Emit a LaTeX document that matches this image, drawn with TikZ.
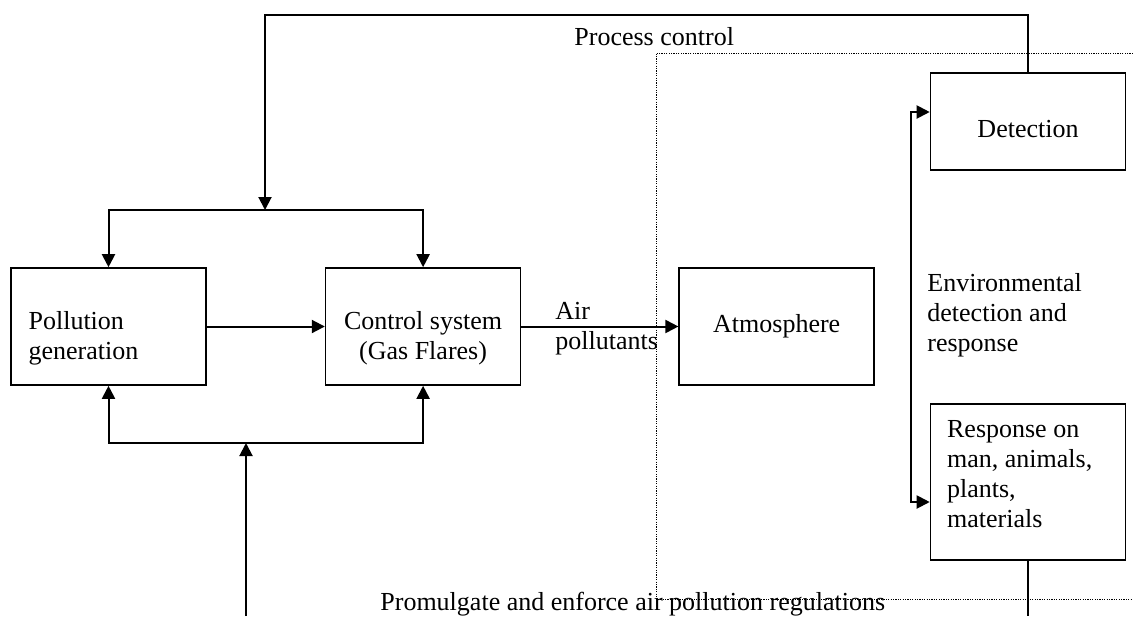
\documentclass[tikz,border=0pt]{standalone}
\usepackage{fontspec}
\setmainfont{Liberation Serif}
\usetikzlibrary{arrows.meta,positioning}

\begin{document}
\begin{tikzpicture}[
  x=0.5pt,y=-0.5pt,
  font=\fontsize{13}{15}\selectfont,
  >={Triangle[length=6.5pt,width=6.5pt]},
  block/.style={draw,line width=0.8pt,minimum width=97.5pt,minimum height=58.5pt,inner sep=0pt,align=center},
  conn/.style={line width=1pt},
  txt/.style={inner sep=0pt,align=left},
  frame/.style={line width=0.5pt,dash pattern=on 0.6pt off 0.6pt}
]
  \useasboundingbox (0,0) rectangle (1133,616);

  % dotted region
  \draw[frame] (1133,53) -- (656,53) -- (656,599) -- (1133,599);

  \node[block] (pollution) at (108.5,326.5) {};
  \node[block,right=59pt of pollution] (control) {};
  \node[block,right=78.5pt of control] (atmos) {Atmosphere};
  \node[block,minimum height=48.5pt] (detect) at (1028,121.5) {};
  \node[block,minimum height=78pt] (response) at (1028,482) {};

  % box texts
  \node[txt,anchor=west] (polltxt) at ([xshift=9pt,yshift=-6pt]pollution.west) {Pollution\\generation};
  \node[txt,align=center] (ctrltxt) at ([yshift=-6pt]control.center) {Control system\\(Gas Flares)};
  \node[txt] (dettxt) at ([yshift=-4pt]detect.center) {Detection};
  \node[txt,anchor=north west] (resptxt) at ([xshift=8.5pt,yshift=-8.5pt]response.north west) {Response on\\man, animals,\\plants,\\materials};

  % free labels
  \node[txt,anchor=base west] (pctxt) at (574,45) {Process control};
  \node[txt,anchor=north west] (envtxt) at (927,273) {Environmental\\detection and\\response};
  \node[txt,anchor=north west] (airtxt) at (555,302) {Air\\pollutants};
  \node[txt,anchor=base west] (regtxt) at (380,610) {Promulgate and enforce air pollution regulations};

  \coordinate (pctop) at (265,15);
  \coordinate (pcfork) at (265,210);
  \coordinate (regin) at (246,616);
  \coordinate (regfork) at (246,443);
  \coordinate (regout) at (response.south |- regin);

  \draw[conn,->] (detect.north) |- (pctop) -- (pcfork);
  \draw[conn,->] (pcfork) -| (pollution.north);
  \draw[conn,->] (pcfork) -| (control.north);
  \draw[conn,->] (pollution) -- (control);
  \draw[conn,->] (control) -- (atmos);
  \draw[conn,->] (regin) -- (regfork);
  \draw[conn,->] (regfork) -| (pollution.south);
  \draw[conn,->] (regfork) -| (control.south);
  \draw[conn,<->] ([yshift=4.75pt]detect.west) -- ++(-9.5pt,0) |- ([yshift=-10pt]response.west);
  \draw[conn] (response) -- (regout);
\end{tikzpicture}
\end{document}
